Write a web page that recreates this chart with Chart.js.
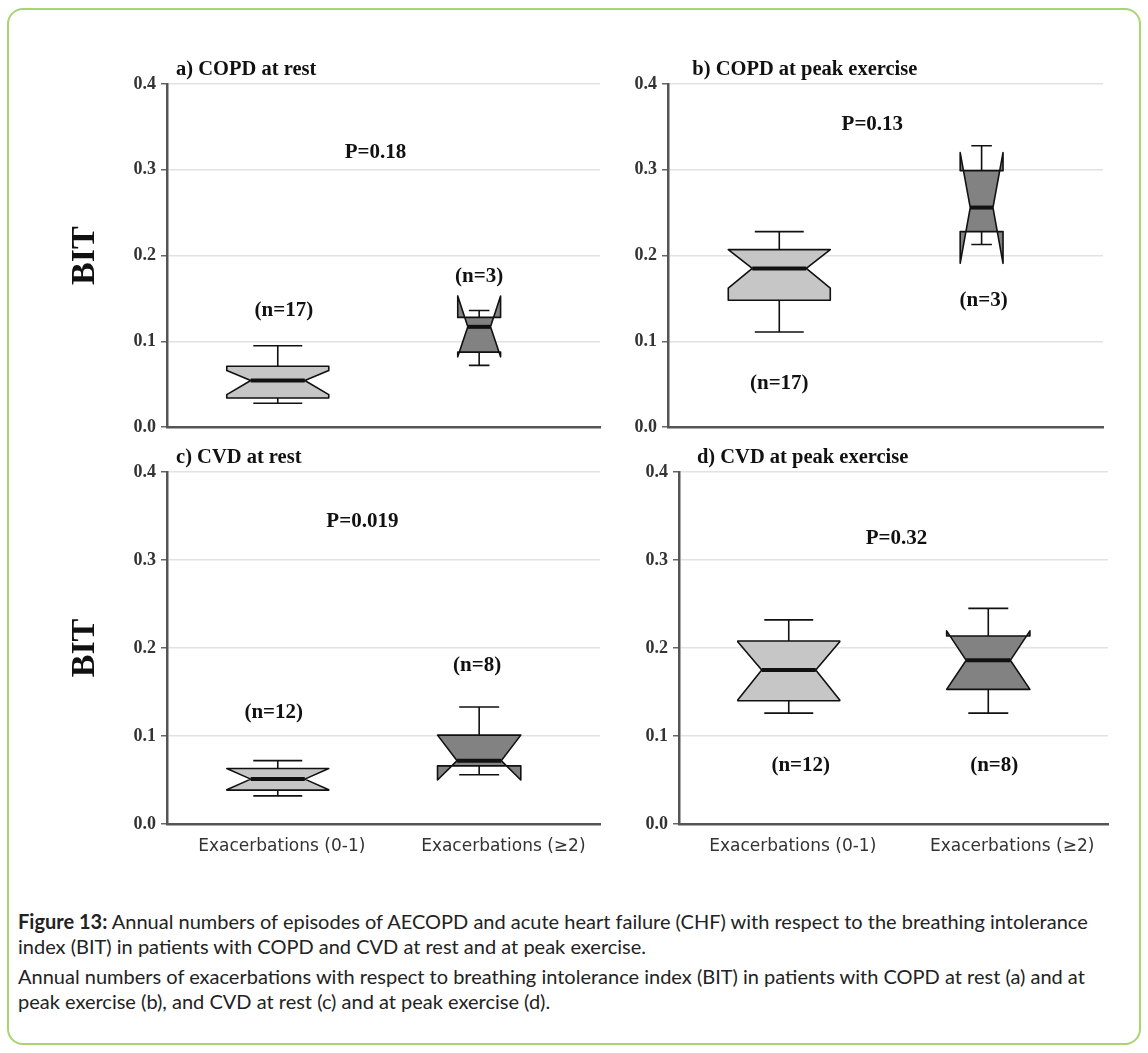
<!DOCTYPE html>
<html>
<head>
<meta charset="utf-8">
<script src="https://cdn.jsdelivr.net/npm/chart.js@4.4.1/dist/chart.umd.min.js"></script>
<style>
  html, body { margin: 0; padding: 0; background: #fff; }
  body { width: 1148px; height: 1053px; position: relative; overflow: hidden; }
  #frame { position: absolute; left: 7px; top: 8px; width: 1134px; height: 1037px;
           border: 2px solid #a9d46f; border-radius: 16px; box-sizing: border-box; }
  canvas { position: absolute; }
  #caption { position: absolute; left: 18px; top: 909px; font-family: Lato, sans-serif;
             font-size: 20px; line-height: 25px; color: #222; white-space: nowrap; }
  #caption p { margin: 0; }
  #caption p + p { margin-top: 5px; }
</style>
</head>
<body>
<div id="frame"></div>
<canvas id="chartA" width="620" height="403" style="left:0;top:40px"></canvas>
<canvas id="chartB" width="500" height="403" style="left:620px;top:40px"></canvas>
<canvas id="chartC" width="620" height="420" style="left:0;top:440px"></canvas>
<canvas id="chartD" width="500" height="420" style="left:620px;top:440px"></canvas>
<div id="caption">
<p><b>Figure 13:</b> Annual numbers of episodes of AECOPD and acute heart failure (CHF) with respect to the breathing intolerance<br>index (BIT) in patients with COPD and CVD at rest and at peak exercise.</p>
<p>Annual numbers of exacerbations with respect to breathing intolerance index (BIT) in patients with COPD at rest (a) and at<br>peak exercise (b), and CVD at rest (c) and at peak exercise (d).</p>
</div>
<script>
// categories and where they sit on the x axis
const categories = ['Exacerbations (0-1)', 'Exacerbations (\u22652)'];
const categoryPos = [1, 2];
const labelPos = [1.02, 2.12];
const yTicks = [0, 0.1, 0.2, 0.3, 0.4];

const panelTitles = ['a) COPD at rest', 'b) COPD at peak exercise', 'c) CVD at rest', 'd) CVD at peak exercise'];
const titleX = [0.495, 0.57, 0.495, 0.54];

// p-value text and position [x, BIT]
const pLabels = ['P=0.18', 'P=0.13', 'P=0.019', 'P=0.32'];
const pPos = [[1.485, 0.32], [1.46, 0.353], [1.42, 0.344], [1.54, 0.324]];

// group sizes and where the (n=..) labels sit
const groupN = [[17, 3], [17, 3], [12, 8], [12, 8]];
const nPos = [
  [[1.03, 0.136], [2.0, 0.176]],
  [[1.0, 0.051], [2.01, 0.148]],
  [[0.98, 0.127], [1.99, 0.18]],
  [[1.06, 0.066], [2.03, 0.066]]
];

// box stats per panel and group: min, q1, notch low, median, notch high, q3, max
const statsCopdRest = [[0.028, 0.034, 0.038, 0.0545, 0.066, 0.071, 0.095],
                       [0.072, 0.0875, 0.082, 0.117, 0.153, 0.128, 0.136]];
const statsCopdPeak = [[0.111, 0.148, 0.162, 0.185, 0.207, 0.207, 0.228],
                       [0.213, 0.228, 0.191, 0.256, 0.320, 0.299, 0.328]];
const statsCvdRest  = [[0.032, 0.0385, 0.039, 0.051, 0.063, 0.063, 0.072],
                       [0.056, 0.066, 0.050, 0.072, 0.101, 0.101, 0.133]];
const statsCvdPeak  = [[0.126, 0.140, 0.141, 0.175, 0.207, 0.208, 0.232],
                       [0.126, 0.153, 0.153, 0.186, 0.2195, 0.2136, 0.245]];
const boxStats = [statsCopdRest, statsCopdPeak, statsCvdRest, statsCvdPeak];

const serif = '"Liberation Serif", "Times New Roman", serif';

// draws the notched boxes plus the panel texts using the chart scales
const notchBoxes = {
  id: 'notchBoxes',
  afterDatasetsDraw(chart, args, o) {
    const k = o.panel;
    const xs = chart.scales.x, ys = chart.scales.y, ctx = chart.ctx;
    const py = v => ys.getPixelForValue(v);
    const nMax = Math.max(...groupN[k]);
    ctx.save();
    ctx.strokeStyle = '#111';
    ctx.lineJoin = 'round';
    boxStats[k].forEach((s, g) => {
      const [mn, q1, nlo, med, nhi, q3, mx] = s;
      const cx = xs.getPixelForValue(categoryPos[g]);
      const hw = o.halfWidth * Math.sqrt(groupN[k][g] / nMax);
      const ins = hw * o.notch;
      const L = cx - hw, R = cx + hw;

      ctx.beginPath();
      ctx.moveTo(L, py(q1));
      ctx.lineTo(L, py(nlo));
      ctx.lineTo(L + ins, py(med));
      ctx.lineTo(L, py(nhi));
      ctx.lineTo(L, py(q3));
      ctx.lineTo(R, py(q3));
      ctx.lineTo(R, py(nhi));
      ctx.lineTo(R - ins, py(med));
      ctx.lineTo(R, py(nlo));
      ctx.lineTo(R, py(q1));
      ctx.closePath();
      ctx.fillStyle = o.fills[g];
      ctx.fill();
      ctx.lineWidth = 1.6;
      ctx.stroke();

      // median
      ctx.lineWidth = 4;
      ctx.beginPath();
      ctx.moveTo(L + ins, py(med));
      ctx.lineTo(R - ins, py(med));
      ctx.stroke();

      // whiskers
      const cw = hw * o.cap;
      ctx.lineWidth = 1.6;
      ctx.beginPath();
      ctx.moveTo(cx, py(q3)); ctx.lineTo(cx, py(mx));
      ctx.moveTo(cx - cw, py(mx)); ctx.lineTo(cx + cw, py(mx));
      ctx.moveTo(cx, py(q1)); ctx.lineTo(cx, py(mn));
      ctx.moveTo(cx - cw, py(mn)); ctx.lineTo(cx + cw, py(mn));
      ctx.stroke();

      // (n=..)
      ctx.fillStyle = '#111';
      ctx.font = 'bold 21px ' + serif;
      ctx.textAlign = 'center';
      ctx.textBaseline = 'middle';
      ctx.fillText('(n=' + groupN[k][g] + ')', xs.getPixelForValue(nPos[k][g][0]), py(nPos[k][g][1]));
    });

    ctx.fillStyle = '#111';
    ctx.font = 'bold 21px ' + serif;
    ctx.textAlign = 'center';
    ctx.textBaseline = 'middle';
    ctx.fillText(pLabels[k], xs.getPixelForValue(pPos[k][0]), py(pPos[k][1]));

    ctx.font = 'bold 20.5px ' + serif;
    ctx.textAlign = 'left';
    ctx.fillText(panelTitles[k], xs.getPixelForValue(titleX[k]), chart.chartArea.top - 14);
    ctx.restore();
  }
};

function makePanel(id, k, opts) {
  return new Chart(document.getElementById(id), {
    type: 'scatter',
    data: { datasets: [] },
    options: {
      responsive: false,
      animation: false,
      events: [],
      layout: { padding: opts.padding },
      plugins: {
        legend: { display: false },
        tooltip: { enabled: false },
        notchBoxes: { panel: k, halfWidth: 51, notch: 0.47, cap: 0.48, fills: ['#c6c6c6', '#828282'] }
      },
      scales: {
        x: {
          type: 'linear', min: 0.45, max: 2.6,
          grid: { display: false, drawTicks: false },
          border: { color: '#555', width: 2.5 },
          afterFit: s => { s.height = opts.xHeight; },
          afterBuildTicks: s => { s.ticks = opts.showX ? labelPos.map(v => ({ value: v })) : []; },
          ticks: {
            display: opts.showX, autoSkip: false, maxRotation: 0, padding: 12,
            color: '#333', font: { family: '"DejaVu Sans", Verdana, sans-serif', size: 17 },
            callback: (v, i) => categories[i]
          }
        },
        y: {
          type: 'linear', min: 0, max: 0.4,
          afterFit: s => { s.width = opts.yWidth; },
          afterBuildTicks: s => { s.ticks = yTicks.map(v => ({ value: v })); },
          ticks: {
            padding: 5, color: '#333',
            font: { family: serif, size: 18, weight: 'bold' },
            callback: v => v.toFixed(1)
          },
          grid: { color: '#e2e2e2', lineWidth: 1.5, tickColor: '#666', tickLength: 6, tickWidth: 1.5 },
          border: { color: '#555', width: 2.5 },
          title: {
            display: opts.showY, text: 'BIT', color: '#111',
            font: { family: serif, size: 34, weight: 'bold' },
            padding: { top: 4, bottom: 4 }
          }
        }
      }
    },
    plugins: [notchBoxes]
  });
}

makePanel('chartA', 0, { padding: { left: 61, top: 44, right: 20, bottom: 0 }, yWidth: 106, xHeight: 8, showX: false, showY: true });
makePanel('chartB', 1, { padding: { left: 0, top: 44, right: 17, bottom: 0 }, yWidth: 48, xHeight: 8, showX: false, showY: false });
makePanel('chartC', 2, { padding: { left: 61, top: 32, right: 20, bottom: 0 }, yWidth: 106, xHeight: 36, showX: true, showY: true });
makePanel('chartD', 3, { padding: { left: 0, top: 32, right: 12, bottom: 0 }, yWidth: 59, xHeight: 36, showX: true, showY: false });
</script>
</body>
</html>
